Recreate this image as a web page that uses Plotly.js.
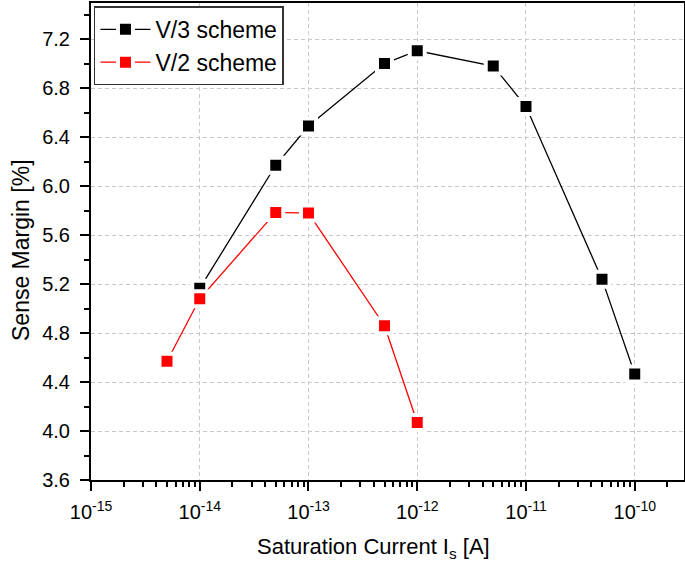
<!DOCTYPE html>
<html>
<head>
<meta charset="utf-8">
<script src="https://cdn.plot.ly/plotly-3.0.1.min.js"></script>
<style>html,body{margin:0;padding:0;background:#fff;}#chart{width:685px;height:570px;}</style>
</head>
<body>
<div id="chart"></div>
<script>
// Data
const v3Current = [1e-14, 5e-14, 1e-13, 5e-13, 1e-12, 5e-12, 1e-11, 5e-11, 1e-10];
const v3Margin  = [5.165, 6.17, 6.49, 7.00, 7.105, 6.98, 6.65, 5.24, 4.465];
const v2Current = [5e-15, 1e-14, 5e-14, 1e-13, 5e-13, 1e-12];
const v2Margin  = [4.57, 5.08, 5.785, 5.78, 4.86, 4.07];
const seriesNames = ['V/3 scheme', 'V/2 scheme'];
const yTicks = [3.6, 4.0, 4.4, 4.8, 5.2, 5.6, 6.0, 6.4, 6.8, 7.2];
const xDecades = [-15, -14, -13, -12, -11, -10];
const xTickLabels = ['10<sup>-15</sup>', '10<sup>-14</sup>', '10<sup>-13</sup>', '10<sup>-12</sup>', '10<sup>-11</sup>', '10<sup>-10</sup>'];
const xTitle = 'Saturation Current I<sub>s</sub> [A]';
const yTitle = 'Sense Margin [%]';

const FONT = 'Liberation Sans, Arial, sans-serif';
const X_RANGE = [-15, -9.547];

const majorX = xDecades.map(d => Math.pow(10, d));
// minor tick positions (2..9 within each decade)
const minorX = [];
xDecades.forEach(d => { for (let m = 2; m <= 9; m++) { const v = m * Math.pow(10, d); if (Math.log10(v) < X_RANGE[1]) minorX.push(v); } });

function series(x, y, name, color, xax) {
  return {
    x: x, y: y, name: name, type: 'scatter', mode: 'lines+markers', xaxis: xax,
    line: {color: color, width: 1.3},
    marker: {symbol: 'square', size: 15, color: color, line: {color: '#ffffff', width: 4}}
  };
}

const data = [
  series(v3Current, v3Margin, seriesNames[0], '#000000', 'x'),
  series(v2Current, v2Margin, seriesNames[1], '#ff0000', 'x2')
];

const tickFont = {family: FONT, size: 20, color: '#000000'};

const layout = {
  width: 685, height: 570,
  margin: {l: 91, r: 1, t: 3, b: 90},
  paper_bgcolor: '#ffffff', plot_bgcolor: '#ffffff',
  showlegend: true,
  font: {family: FONT, color: '#000000'},
  xaxis: {
    type: 'log', range: X_RANGE, tickmode: 'array', tickvals: majorX, ticktext: xTickLabels,
    showline: true, linecolor: '#000000', linewidth: 2, mirror: true,
    ticks: 'outside', ticklen: 9, tickwidth: 2, tickcolor: '#000000',
    showgrid: true, gridcolor: '#c8c8c8', griddash: '4px,3px', gridwidth: 1,
    zeroline: false, tickfont: tickFont, ticklabelstandoff: 4,
    minor: {tickmode: 'array', tickvals: minorX, ticks: 'outside', ticklen: 5, tickwidth: 2, tickcolor: '#000000', showgrid: false}
  },
  xaxis2: {
    type: 'log', range: X_RANGE, overlaying: 'x', anchor: 'y', side: 'bottom',
    tickmode: 'array', tickvals: minorX, ticktext: minorX.map(() => ''),
    ticks: 'outside', ticklen: 5, tickwidth: 2, tickcolor: '#000000',
    showgrid: false, showline: true, linecolor: '#000000', linewidth: 2, zeroline: false
  },
  yaxis: {
    range: [3.6, 7.495], tickvals: yTicks, tickformat: '.1f',
    showline: true, linecolor: '#000000', linewidth: 2, mirror: true,
    ticks: 'outside', ticklen: 9, tickwidth: 2, tickcolor: '#000000',
    showgrid: true, gridcolor: '#c8c8c8', griddash: '4px,3px', gridwidth: 1,
    zeroline: false, tickfont: tickFont, ticklabelstandoff: 6,
    minor: {dtick: 0.2, ticks: 'outside', ticklen: 5, tickwidth: 2, tickcolor: '#000000', showgrid: false}
  },
  annotations: [
    {text: xTitle, xref: 'paper', yref: 'paper', x: (373 - 91) / 593, y: (480 - 548) / 477,
     xanchor: 'center', yanchor: 'middle', showarrow: false,
     font: {family: FONT, size: 22, color: '#000000'}},
    {text: yTitle, xref: 'paper', yref: 'paper', x: (21 - 91) / 593, y: (480 - 250) / 477,
     xanchor: 'center', yanchor: 'middle', showarrow: false, textangle: -90,
     font: {family: FONT, size: 23, color: '#000000'}}
  ],
  legend: {
    x: 0.005, y: 0.993, xanchor: 'left', yanchor: 'top',
    bgcolor: '#ffffff', bordercolor: '#333333', borderwidth: 1.5,
    font: {family: FONT, size: 23, color: '#000000'},
    tracegroupgap: 0, itemwidth: 50
  }
};

Plotly.newPlot('chart', data, layout, {displayModeBar: false, staticPlot: true});
</script>
</body>
</html>
